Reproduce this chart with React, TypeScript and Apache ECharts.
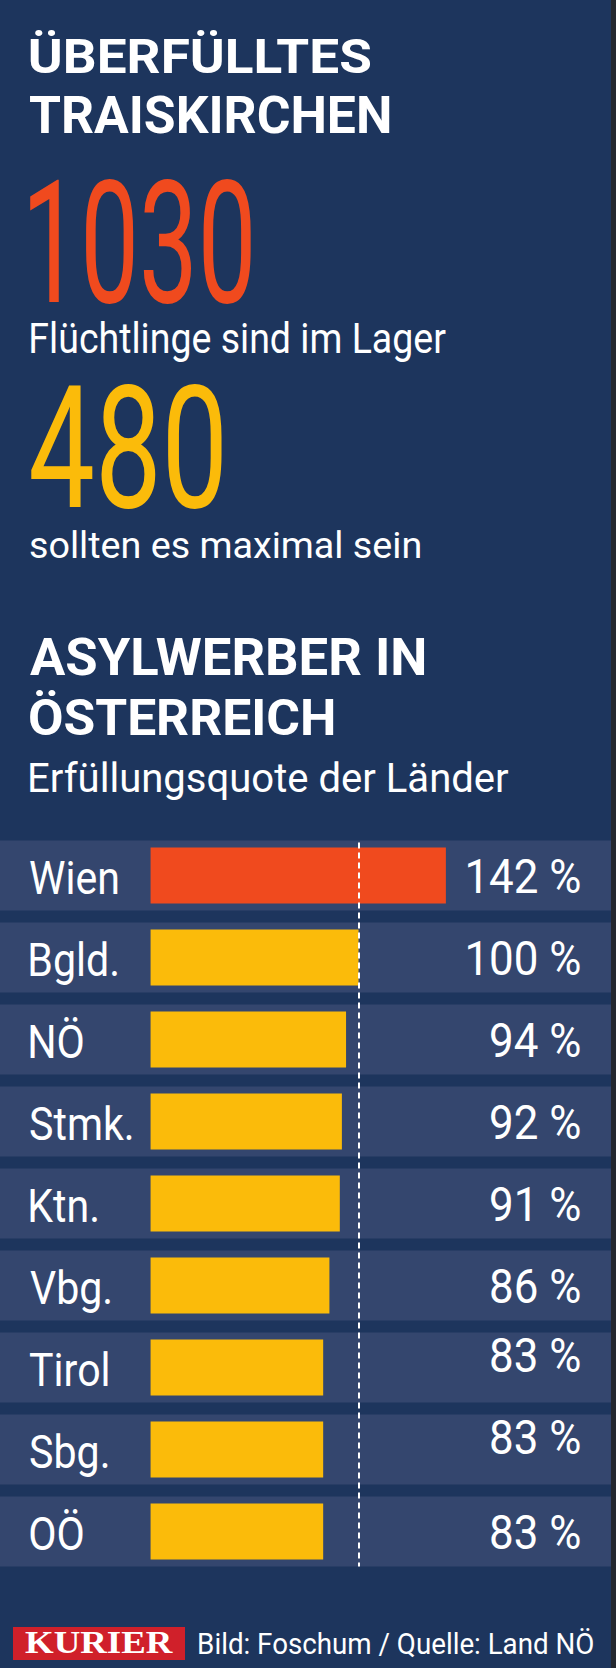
import React, { useEffect, useRef } from 'react';
import * as echarts from 'echarts';

// ---------------- data ----------------
const titleLines = ['ÜBERFÜLLTES', 'TRAISKIRCHEN'];
const refugeesInCamp = '1030';
const refugeesInCampText = 'Flüchtlinge sind im Lager';
const campCapacity = '480';
const campCapacityText = 'sollten es maximal sein';
const chartTitleLines = ['ASYLWERBER IN', 'ÖSTERREICH'];
const chartSubtitle = 'Erfüllungsquote der Länder';
const categories = ['Wien', 'Bgld.', 'NÖ', 'Stmk.', 'Ktn.', 'Vbg.', 'Tirol', 'Sbg.', 'OÖ'];
const quotas = [142, 100, 94, 92, 91, 86, 83, 83, 83];
const raisedLabels = ['Tirol', 'Sbg.'];
const quotaTarget = 100;
const brand = 'KURIER';
const credit = 'Bild: Foschum / Quelle: Land NÖ';

// ---------------- style ----------------
const BG = '#1d355d';
const BAND = '#34466e';
const ORANGE = '#f04a1e';
const YELLOW = '#fbbb0a';
const RED = '#d0202a';
const WHITE = '#ffffff';
const BAND_H = 70;

let ctxCache: CanvasRenderingContext2D | null = null;
function ctx2d() {
  if (!ctxCache) ctxCache = document.createElement('canvas').getContext('2d');
  return ctxCache as CanvasRenderingContext2D;
}
function measure(text: string, weight: string, size: number, family: string) {
  const c = ctx2d();
  c.font = `${weight} ${size}px ${family}`;
  c.textBaseline = 'alphabetic';
  c.textAlign = 'left';
  return c.measureText(text);
}
function hasFont(name: string) {
  const p = 'Wien Bgld. Stmk. 0123456789 %';
  return measure(p, 'normal', 40, `"${name}", monospace`).width !== measure(p, 'normal', 40, 'monospace').width;
}
function pickFamily(list: string[], fallback: string) {
  for (const n of list) if (hasFont(n)) return `"${n}", ${fallback}`;
  return fallback;
}
function sizeFor(height: number, sample: string, weight: string, family: string) {
  const m = measure(sample, weight, 100, family);
  return height / (m.actualBoundingBoxAscent / 100);
}
// distance from the alphabetic baseline up to the SVG "central" baseline used by zrender
function svgCentral(size: number, weight: string, family: string) {
  const NS = 'http://www.w3.org/2000/svg';
  const svg = document.createElementNS(NS, 'svg') as SVGSVGElement;
  svg.setAttribute('width', '800');
  svg.setAttribute('height', '400');
  svg.style.position = 'absolute';
  svg.style.left = '-5000px';
  svg.style.top = '0px';
  document.body.appendChild(svg);
  const mk = (db: string) => {
    const t = document.createElementNS(NS, 'text') as SVGTextElement;
    t.setAttribute('x', '0');
    t.setAttribute('y', '200');
    t.setAttribute('dominant-baseline', db);
    t.setAttribute('style', `font: ${weight} ${size}px ${family}`);
    t.textContent = 'Hg';
    svg.appendChild(t);
    return t;
  };
  const a = mk('alphabetic').getBBox().y;
  const c = mk('central').getBBox().y;
  document.body.removeChild(svg);
  return c - a;
}

type TextOpts = { baseline: number; size: number; weight: string; family: string; fill: string; sx: number; inkLeft?: number; inkRight?: number };
function textEl(text: string, o: TextOpts) {
  const m = measure(text, o.weight, o.size, o.family);
  let x: number;
  if (o.inkLeft !== undefined) x = o.inkLeft + m.actualBoundingBoxLeft * o.sx;
  else x = (o.inkRight as number) - m.actualBoundingBoxRight * o.sx;
  const y = o.baseline - svgCentral(o.size, o.weight, o.family);
  return {
    type: 'text',
    x,
    y,
    scaleX: o.sx,
    z: 10,
    silent: true,
    style: {
      text,
      fill: o.fill,
      fontSize: o.size,
      fontWeight: o.weight,
      fontFamily: o.family,
      align: 'left',
      verticalAlign: 'middle',
    },
  };
}
function inkWidth(text: string, weight: string, size: number, family: string) {
  const m = measure(text, weight, size, family);
  return m.actualBoundingBoxLeft + m.actualBoundingBoxRight;
}
function fitted(text: string, o: { left: number; right: number; baseline: number; height: number; sample: string; weight: string; family: string; fill: string }) {
  const size = sizeFor(o.height, o.sample, o.weight, o.family);
  const sx = (o.right - o.left) / inkWidth(text, o.weight, size, o.family);
  return textEl(text, { baseline: o.baseline, size, weight: o.weight, family: o.family, fill: o.fill, sx, inkLeft: o.left });
}

export default function App() {
  const ref = useRef<HTMLDivElement>(null);
  useEffect(() => {
    const el = ref.current as HTMLDivElement;
    const chart = echarts.init(el, null, { renderer: 'svg', width: 616, height: 1668 });

    const sans = pickFamily(['Roboto', 'Liberation Sans', 'DejaVu Sans'], 'sans-serif');
    const serif = pickFamily(['Liberation Serif', 'DejaVu Serif'], 'serif');

    const hiddenCat = {
      type: 'category',
      data: categories,
      inverse: true,
      axisLine: { show: false },
      axisTick: { show: false },
      splitLine: { show: false },
      axisLabel: { show: false },
    };

    const option: any = {
      animation: false,
      backgroundColor: BG,
      grid: { left: 0, right: 5, top: 834.5, height: categories.length * 82, containLabel: false },
      xAxis: { type: 'value', min: -72.4, max: 221.4, show: false },
      yAxis: [
        { ...hiddenCat, position: 'left' },
        { ...hiddenCat, position: 'right' },
      ],
      series: [
        {
          name: 'band',
          type: 'bar',
          yAxisIndex: 1,
          barWidth: BAND_H,
          data: quotas,
          z: 1,
          silent: true,
          itemStyle: { opacity: 0 },
          showBackground: true,
          backgroundStyle: { color: BAND, opacity: 1 },
        },
        {
          name: 'Erfüllungsquote',
          type: 'bar',
          yAxisIndex: 0,
          barWidth: 56,
          data: quotas,
          z: 2,
          itemStyle: {
            color: (p: any) => (p.value > quotaTarget ? ORANGE : YELLOW),
          },
        },
      ],
    };
    chart.setOption(option);

    // reference line at 100 %, spanning from the first band's top to the last band's bottom
    const x100 = chart.convertToPixel({ xAxisIndex: 0 }, quotaTarget) as number;
    const yFirst = chart.convertToPixel({ yAxisIndex: 0 }, categories[0]) as number;
    const yLast = chart.convertToPixel({ yAxisIndex: 0 }, categories[categories.length - 1]) as number;

    // row labels, placed through the category axis
    const labelSize = sizeFor(33, 'W', 'normal', sans);
    const labelSx = 88 / inkWidth('Wien', 'normal', labelSize, sans);
    const valueSize = sizeFor(35, '4', 'normal', sans);
    const valueSx = 112 / inkWidth(`${quotas[0]} %`, 'normal', valueSize, sans);
    const gridRight = 611;
    const rowTexts: any[] = [];
    categories.forEach((c, i) => {
      const cy = chart.convertToPixel({ yAxisIndex: 0 }, c) as number;
      rowTexts.push(textEl(c, { baseline: cy + 19.5, size: labelSize, weight: 'normal', family: sans, fill: WHITE, sx: labelSx, inkLeft: 30 }));
      const raised = raisedLabels.includes(c);
      rowTexts.push(
        textEl(`${quotas[i]} %`, { baseline: cy + (raised ? 4.5 : 17.5), size: valueSize, weight: 'normal', family: sans, fill: WHITE, sx: valueSx, inkRight: gridRight - 31 })
      );
    });

    const graphics: any[] = [
      { type: 'rect', z: 0, silent: true, shape: { x: 611, y: 0, width: 5, height: 1668 }, style: { fill: '#23272f' } },
      fitted(titleLines[0], { left: 30, right: 371, baseline: 73, height: 35, sample: 'E', weight: 'bold', family: sans, fill: WHITE }),
      fitted(titleLines[1], { left: 30, right: 389, baseline: 133, height: 37, sample: 'E', weight: 'bold', family: sans, fill: WHITE }),
      fitted(refugeesInCamp, { left: 30, right: 251, baseline: 302, height: 125, sample: '0', weight: 'normal', family: sans, fill: ORANGE }),
      fitted(refugeesInCampText, { left: 31, right: 446, baseline: 353, height: 30.5, sample: 'F', weight: 'normal', family: sans, fill: WHITE }),
      fitted(campCapacity, { left: 31, right: 222, baseline: 507, height: 125, sample: '0', weight: 'normal', family: sans, fill: YELLOW }),
      fitted(campCapacityText, { left: 30, right: 420, baseline: 558, height: 28, sample: 'l', weight: 'normal', family: sans, fill: WHITE }),
      fitted(chartTitleLines[0], { left: 30, right: 424, baseline: 675, height: 37, sample: 'E', weight: 'bold', family: sans, fill: WHITE }),
      fitted(chartTitleLines[1], { left: 30, right: 334, baseline: 735, height: 36, sample: 'E', weight: 'bold', family: sans, fill: WHITE }),
      fitted(chartSubtitle, { left: 30, right: 509, baseline: 792, height: 29, sample: 'E', weight: 'normal', family: sans, fill: WHITE }),
      { type: 'rect', z: 5, silent: true, shape: { x: 13, y: 1627, width: 172, height: 33 }, style: { fill: RED } },
      fitted(brand, { left: 25, right: 173, baseline: 1653, height: 21, sample: 'K', weight: 'bold', family: serif, fill: WHITE }),
      fitted(credit, { left: 199, right: 593, baseline: 1654, height: 21, sample: 'B', weight: 'normal', family: sans, fill: WHITE }),
      ...rowTexts,
    ];

    chart.setOption({
      series: [
        {},
        {
          markLine: {
            silent: true,
            symbol: ['none', 'none'],
            label: { show: false },
            lineStyle: { color: WHITE, type: [6, 4], width: 2, opacity: 1 },
            data: [[{ x: x100, y: yFirst - BAND_H / 2 + 2 }, { x: x100, y: yLast + BAND_H / 2 }]],
          },
        },
      ],
      graphic: graphics,
    });
    return () => chart.dispose();
  }, []);
  return <div ref={ref} style={{ position: 'fixed', left: 0, top: 0, width: 616, height: 1668 }} />;
}
